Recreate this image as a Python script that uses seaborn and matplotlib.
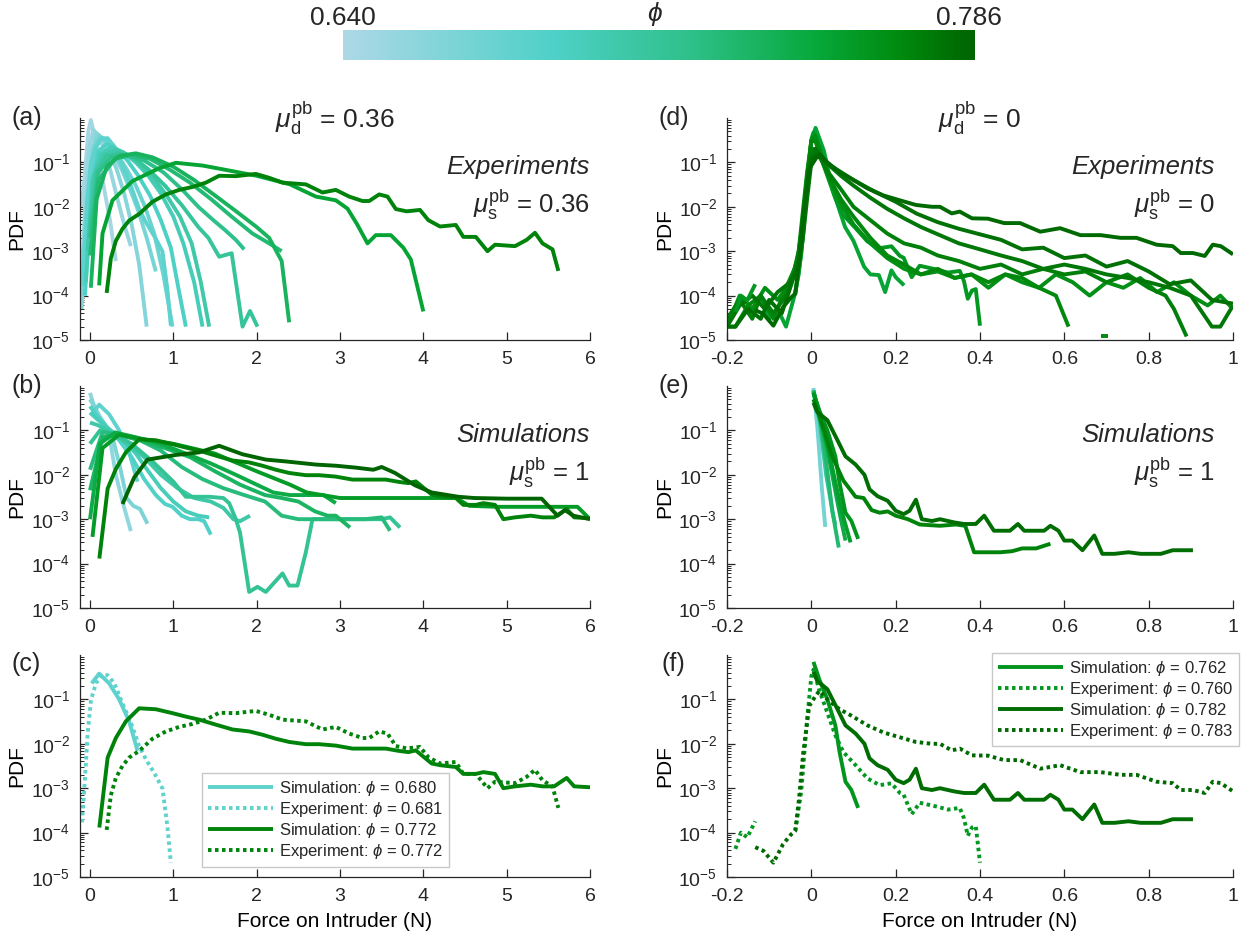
import numpy as np
import pandas as pd
import matplotlib
matplotlib.use("Agg")
import matplotlib.pyplot as plt
import seaborn as sns
from matplotlib.colors import LinearSegmentedColormap, Normalize
from matplotlib.cm import ScalarMappable
from matplotlib.ticker import LogLocator, NullFormatter

sns.set_theme(style="ticks", rc={"xtick.direction": "in", "ytick.direction": "in"})
plt.rcParams["font.family"] = ["Liberation Sans", "DejaVu Sans"]
plt.rcParams["mathtext.fontset"] = "custom"
plt.rcParams["mathtext.rm"] = "Liberation Sans"
plt.rcParams["mathtext.it"] = "Liberation Sans:italic"
plt.rcParams["axes.unicode_minus"] = False

phi_min, phi_max = 0.640, 0.786

# curves shared between panels (force in N, PDF)
exp681_f = [-0.096, -0.068, -0.028, 0.012, 0.072, 0.132, 0.212, 0.292, 0.39, 0.49, 0.59, 0.67, 0.79, 0.87, 0.93, 0.97]
exp681_p = [1.7e-4, 9.8e-4, 1.7e-2, 9.8e-2, 0.23, 0.35, 0.35, 0.23, 8.1e-2, 3.0e-2, 8.9e-3, 4.5e-3, 1.9e-3, 9.8e-4, 1.3e-4, 2.1e-5]
exp772_f = [0.2, 0.25, 0.31, 0.39, 0.47, 0.59, 0.75, 0.91, 1.07, 1.23, 1.39, 1.55, 1.75, 1.99, 2.15, 2.31, 2.59, 2.79, 2.95, 3.11,
            3.27, 3.35, 3.47, 3.57, 3.67, 3.8, 3.96, 4.06, 4.2, 4.39, 4.48, 4.63, 4.77, 4.86, 5.1, 5.24, 5.34, 5.43, 5.55, 5.62]
exp772_p = [1.15e-4, 6.9e-4, 1.7e-3, 3.2e-3, 4.9e-3, 6.9e-3, 1.3e-2, 1.9e-2, 2.4e-2, 2.8e-2, 3.5e-2, 5.0e-2, 4.9e-2, 5.5e-2, 4.5e-2, 3.5e-2, 3.2e-2, 2.1e-2, 2.4e-2, 1.7e-2,
            1.35e-2, 1.35e-2, 1.9e-2, 1.7e-2, 8.9e-3, 7.9e-3, 8.5e-3, 5.0e-3, 3.6e-3, 3.9e-3, 2.1e-3, 2.1e-3, 1.0e-3, 1.4e-3, 1.3e-3, 1.8e-3, 2.6e-3, 1.5e-3, 1.1e-3, 3.6e-4]
sim680_f = [0.02, 0.11, 0.23, 0.35, 0.47, 0.57]
sim680_p = [0.23, 0.38, 0.23, 0.1, 3.2e-2, 7e-3]
sim772_f = [0.112, 0.212, 0.31, 0.43, 0.59, 0.79, 0.99, 1.15, 1.31, 1.51, 1.71, 1.91, 2.07, 2.23, 2.39, 2.59, 2.75, 2.95, 3.15, 3.31,
            3.55, 3.71, 3.82, 3.91, 4.1, 4.2, 4.39, 4.48, 4.63, 4.72, 4.86, 4.96, 5.1, 5.29, 5.43, 5.57, 5.72, 5.81, 6.0]
sim772_p = [1.3e-4, 4.9e-3, 1.35e-2, 3.2e-2, 6.3e-2, 6.0e-2, 4.9e-2, 4.1e-2, 3.5e-2, 2.7e-2, 2.1e-2, 1.9e-2, 1.6e-2, 1.3e-2, 1.1e-2, 9.8e-3, 9.8e-3, 9.1e-3, 7.8e-3, 7.8e-3,
            7.8e-3, 6.9e-3, 6.5e-3, 7.1e-3, 3.6e-3, 3.3e-3, 3.0e-3, 2.1e-3, 2.1e-3, 2.3e-3, 2.1e-3, 1.0e-3, 1.1e-3, 1.2e-3, 1.1e-3, 1.1e-3, 1.7e-3, 1.1e-3, 1.05e-3]
exp760_left_f = [-0.18, -0.167, -0.152, -0.133]
exp760_left_p = [4.3e-5, 1e-4, 7.8e-5, 1.8e-4]
exp760_f = [-0.038, -0.024, -0.01, 0.0, 0.005, 0.019, 0.038, 0.057, 0.076, 0.105, 0.133, 0.162, 0.19, 0.21, 0.219, 0.238, 0.257,
            0.295, 0.324, 0.352, 0.362, 0.371, 0.381, 0.39, 0.4]
exp760_p = [1.1e-4, 8.5e-4, 3.6e-2, 0.33, 0.47, 0.16, 5e-2, 1.55e-2, 6.5e-3, 3.3e-3, 1.66e-3, 1.17e-3, 1.29e-3, 7.8e-4, 7.1e-4, 2.6e-4, 4.7e-4,
            3.9e-4, 3.3e-4, 3.6e-4, 2.1e-4, 8.5e-5, 1.3e-4, 1.4e-4, 2.1e-5]
exp783_f = [-0.133, -0.114, -0.09, -0.067, -0.048, -0.038, -0.029, -0.019, -0.005, 0.01, 0.019, 0.038, 0.067, 0.095, 0.133, 0.171, 0.21, 0.248, 0.286, 0.305,
            0.333, 0.352, 0.381, 0.419, 0.457, 0.495, 0.543, 0.59, 0.638, 0.686, 0.733, 0.771, 0.819, 0.857, 0.876, 0.905, 0.933, 0.952, 0.971, 1.0]
exp783_p = [4.7e-5, 3.9e-5, 2.1e-5, 5.5e-5, 9.1e-5, 1.1e-4, 6e-4, 6.5e-3, 7.1e-2, 0.12, 0.155, 0.1, 6e-2, 4.3e-2, 2.6e-2, 1.8e-2, 1.4e-2, 1.1e-2, 1e-2, 1e-2,
            7.1e-3, 7.8e-3, 5.5e-3, 5.4e-3, 4.3e-3, 4.3e-3, 2.75e-3, 3.3e-3, 2.3e-3, 2.3e-3, 2e-3, 2e-3, 1.4e-3, 1.3e-3, 9.1e-4, 9.1e-4, 7.8e-4, 1.4e-3, 1.3e-3, 8.5e-4]
sim762_f = [0.005, 0.019, 0.038, 0.057, 0.067, 0.081, 0.095, 0.111]
sim762_p = [0.7, 0.28, 0.1, 2.6e-2, 6.5e-3, 1.4e-3, 9.1e-4, 3.6e-4]
sim782_f = [0.005, 0.014, 0.038, 0.062, 0.081, 0.105, 0.126, 0.138, 0.157, 0.181, 0.2, 0.219, 0.233, 0.248, 0.262, 0.286, 0.305, 0.338, 0.362, 0.39,
            0.41, 0.433, 0.471, 0.49, 0.505, 0.552, 0.567, 0.586, 0.6, 0.619, 0.643, 0.671, 0.69, 0.719, 0.752, 0.781, 0.829, 0.857, 0.905]
sim782_p = [0.42, 0.26, 0.17, 6e-2, 2.6e-2, 1.7e-2, 1e-2, 4.7e-3, 3.3e-3, 2.6e-3, 1.55e-3, 1.3e-3, 1.55e-3, 2.75e-3, 1e-3, 9.1e-4, 1e-3, 8.5e-4, 7.8e-4, 7.8e-4,
            1.2e-3, 5.5e-4, 5.5e-4, 7.8e-4, 5.5e-4, 5.5e-4, 7.1e-4, 5.5e-4, 3.3e-4, 3.3e-4, 2e-4, 4.3e-4, 1.66e-4, 1.66e-4, 1.8e-4, 1.66e-4, 1.66e-4, 2e-4, 2e-4]

# (a) experiments, mu = 0.36
a1_f = [-0.1, -0.06, -0.02, 0.01, 0.06, 0.11, 0.17, 0.24, 0.31]
a1_p = [1e-2, 6e-2, 0.5, 0.9, 0.35, 0.12, 2.5e-2, 5e-3, 6e-4]
a2_f = [-0.1, -0.06, -0.01, 0.04, 0.1, 0.17, 0.25, 0.33, 0.41, 0.49]
a2_p = [2e-4, 1e-2, 0.2, 0.55, 0.4, 0.2, 6e-2, 1.5e-2, 4e-3, 1.3e-3]
a3_f = [-0.1, -0.05, 0.02, 0.08, 0.15, 0.23, 0.32, 0.41, 0.5, 0.59, 0.68]
a3_p = [5e-5, 5e-3, 0.15, 0.45, 0.35, 0.18, 7e-2, 2e-2, 4e-3, 5e-4, 2e-5]
a4_f = [-0.1, -0.04, 0.04, 0.11, 0.19, 0.28, 0.38, 0.48, 0.58, 0.68, 0.79]
a4_p = [1e-4, 1e-2, 0.2, 0.4, 0.3, 0.16, 7e-2, 2.5e-2, 8e-3, 2e-3, 3.5e-4]
a5_f = [-0.09, -0.02, 0.06, 0.14, 0.23, 0.33, 0.44, 0.55, 0.66, 0.77, 0.88, 0.99]
a5_p = [2e-4, 2e-2, 0.2, 0.35, 0.28, 0.15, 7e-2, 3e-2, 1e-2, 2.5e-3, 3e-4, 2e-5]
a7_f = [-0.06, 0.02, 0.1, 0.2, 0.32, 0.45, 0.58, 0.72, 0.85, 0.97, 1.06, 1.15]
a7_p = [1e-4, 3e-2, 0.18, 0.26, 0.2, 0.11, 5e-2, 1.8e-2, 5e-3, 1.2e-3, 1.5e-4, 2e-5]
a8_f = [-0.05, 0.03, 0.13, 0.26, 0.4, 0.55, 0.7, 0.85, 1.0, 1.12, 1.25, 1.35]
a8_p = [2e-4, 4e-2, 0.16, 0.22, 0.17, 0.1, 5e-2, 2e-2, 6e-3, 1.5e-3, 2e-4, 2e-5]
a9_f = [-0.03, 0.05, 0.16, 0.3, 0.45, 0.6, 0.76, 0.92, 1.08, 1.22, 1.33, 1.43]
a9_p = [1e-3, 5e-2, 0.15, 0.19, 0.15, 9e-2, 4.5e-2, 1.8e-2, 6e-3, 1.5e-3, 2e-4, 2e-5]
a10_f = [0.0, 0.08, 0.2, 0.35, 0.52, 0.7, 0.9, 1.1, 1.3, 1.42, 1.55, 1.7, 1.83, 1.92, 2.01]
a10_p = [3e-3, 6e-2, 0.14, 0.16, 0.13, 7e-2, 3e-2, 1.1e-2, 3.5e-3, 2e-3, 7.5e-4, 9e-4, 2e-5, 4.5e-5, 2e-5]
a11_f = [0.0, 0.1, 0.25, 0.45, 0.65, 0.88, 1.1, 1.3, 1.48, 1.62, 1.75, 1.85]
a11_p = [2e-3, 6e-2, 0.13, 0.14, 0.11, 6e-2, 2.5e-2, 1e-2, 5e-3, 3e-3, 1.8e-3, 1.1e-3]
a12_f = [0.0, 0.1, 0.3, 0.5, 0.72, 0.95, 1.2, 1.45, 1.7, 1.95, 2.15, 2.3]
a12_p = [8e-4, 4e-2, 0.12, 0.15, 0.12, 7e-2, 3.5e-2, 1.5e-2, 6e-3, 2.5e-3, 1.5e-3, 1e-3]
a13_f = [0.01, 0.08, 0.2, 0.35, 0.55, 0.75, 1.0, 1.25, 1.5, 1.75, 2.0, 2.15, 2.3, 2.39]
a13_p = [1.5e-4, 1.5e-2, 8e-2, 0.14, 0.16, 0.13, 8e-2, 4e-2, 1.8e-2, 8e-3, 3.5e-3, 2e-3, 6e-4, 2.5e-5]
a14_f = [0.11, 0.15, 0.27, 0.51, 0.83, 1.03, 1.35, 1.59, 2.0, 2.4, 2.71, 2.95, 3.09, 3.21, 3.33, 3.43, 3.61, 3.76, 3.85, 4.0]
a14_p = [1.7e-4, 2.5e-3, 1.4e-2, 3.8e-2, 7.4e-2, 9.8e-2, 8.5e-2, 7e-2, 5e-2, 3.2e-2, 1.7e-2, 1.4e-2, 9.1e-3, 3.9e-3, 1.5e-3, 2.3e-3, 2.3e-3, 1.2e-3, 6.5e-4, 4.4e-5]
phi_a = [0.645, 0.652, 0.66, 0.667, 0.674, 0.681, 0.69, 0.697, 0.704, 0.712, 0.72, 0.728, 0.736, 0.752, 0.772]

# (b) simulations, mu_s = 1
b1_f = [0.0, 0.04, 0.1, 0.17, 0.23, 0.31, 0.39, 0.49]
b1_p = [0.7, 0.4, 0.22, 0.13, 8e-2, 1e-2, 2.5e-3, 5.4e-4]
b2_f = [0.0, 0.05, 0.12, 0.2, 0.28, 0.36, 0.44, 0.52, 0.6, 0.69]
b2_p = [0.5, 0.35, 0.2, 0.12, 6e-2, 1.5e-2, 3e-3, 2e-3, 1.7e-3, 7.9e-4]
b4_f = [0.0, 0.08, 0.2, 0.35, 0.5, 0.65, 0.79, 0.9, 0.99, 1.1, 1.2, 1.3, 1.37, 1.45]
b4_p = [0.35, 0.22, 0.12, 6e-2, 2.5e-2, 8e-3, 3.5e-3, 2.2e-3, 1.9e-3, 1.2e-3, 1e-3, 1e-3, 9e-4, 4.5e-4]
b5_f = [0.0, 0.1, 0.25, 0.4, 0.55, 0.7, 0.85, 1.0, 1.15, 1.3, 1.43]
b5_p = [0.25, 0.17, 0.1, 6e-2, 3e-2, 1.2e-2, 5e-3, 2.5e-3, 1.5e-3, 1.2e-3, 1.1e-3]
b6_f = [0.0, 0.1, 0.25, 0.45, 0.65, 0.85, 1.05, 1.25, 1.45, 1.6, 1.72, 1.8, 1.92]
b6_p = [0.15, 0.13, 9e-2, 5e-2, 2.5e-2, 1e-2, 5e-3, 3e-3, 2.5e-3, 1.8e-3, 1e-3, 9e-4, 1.2e-3]
b7_f = [0.0, 0.12, 0.3, 0.5, 0.75, 1.0, 1.15, 1.43, 1.6, 1.67, 1.75, 1.8, 1.91, 2.01, 2.11, 2.31, 2.39, 2.49, 2.59, 2.67,
        2.9, 3.2, 3.5, 3.6, 3.72]
b7_p = [5e-2, 0.1, 8e-2, 5e-2, 2e-2, 7e-3, 3.2e-3, 3.2e-3, 3e-3, 2.3e-3, 1e-3, 5e-4, 2.3e-5, 3e-5, 2.3e-5, 6e-5, 3.2e-5, 3.2e-5, 1.8e-4, 1e-3,
        1e-3, 1e-3, 1e-3, 1.1e-3, 6.5e-4]
b8_f = [0.0, 0.15, 0.35, 0.6, 0.85, 1.1, 1.35, 1.6, 1.85, 2.1, 2.3, 2.5, 2.7, 2.9, 3.1, 3.3, 3.5, 3.6]
b8_p = [1.3e-2, 9e-2, 8e-2, 6e-2, 3.5e-2, 1.5e-2, 8e-3, 5e-3, 3.5e-3, 2.5e-3, 1.2e-3, 1e-3, 1e-3, 1e-3, 1e-3, 1e-3, 1.1e-3, 5.5e-4]
b9_f = [0.0, 0.15, 0.35, 0.6, 0.9, 1.2, 1.5, 1.8, 2.1, 2.3, 2.5, 2.7, 2.85, 2.95, 3.12]
b9_p = [4.5e-3, 7e-2, 8e-2, 6e-2, 4e-2, 2.5e-2, 1.2e-2, 6e-3, 3.5e-3, 3e-3, 2.5e-3, 1.5e-3, 1.2e-3, 1.2e-3, 6.5e-4]
b10_f = [0.0, 0.12, 0.3, 0.55, 0.85, 1.15, 1.45, 1.75, 2.0, 2.2, 2.4, 2.6, 2.8, 2.95]
b10_p = [1e-3, 5e-2, 9e-2, 7e-2, 5e-2, 3e-2, 1.8e-2, 1e-2, 6e-3, 4e-3, 3.5e-3, 3.5e-3, 3.5e-3, 2.3e-3]
b11_f = [0.03, 0.15, 0.35, 0.6, 1.0, 1.5, 2.0, 2.4, 2.6, 3.0, 3.5, 4.0, 4.4, 4.55, 4.9, 5.5, 5.85, 6.0]
b11_p = [4e-4, 4e-2, 8e-2, 6.5e-2, 5e-2, 3e-2, 1.2e-2, 6e-3, 4e-3, 3e-3, 3e-3, 3e-3, 3e-3, 2e-3, 1.9e-3, 1.9e-3, 1.9e-3, 1e-3]
b13_f = [0.39, 0.53, 0.69, 1.03, 1.31, 1.55, 1.83, 2.11, 2.35, 2.71, 2.95, 3.19, 3.4, 3.5, 3.66, 3.9, 4.1, 4.42, 4.61, 5.0,
         5.42, 5.61, 5.7, 5.8, 6.0]
b13_p = [2.2e-3, 8.7e-3, 2.2e-2, 2.8e-2, 3.2e-2, 4.5e-2, 2.9e-2, 2.2e-2, 2e-2, 1.7e-2, 1.6e-2, 1.45e-2, 1.3e-2, 1.5e-2, 1.1e-2, 5.8e-3, 4e-3, 3.2e-3, 3e-3, 2.9e-3,
         2.9e-3, 1.2e-3, 1.6e-3, 1.2e-3, 1e-3]
phi_b = [0.655, 0.665, 0.680, 0.688, 0.696, 0.705, 0.715, 0.725, 0.735, 0.745, 0.758, 0.772, 0.786]

# (d) experiments, mu = 0
d1_f = [-0.12, -0.1, -0.08, -0.06, -0.04, -0.03, -0.02, -0.01, 0.0, 0.01, 0.03, 0.05, 0.08, 0.1, 0.125, 0.14, 0.16, 0.175, 0.19, 0.2, 0.22]
d1_p = [1e-4, 3e-5, 5e-5, 2e-5, 1e-4, 3e-4, 2e-3, 3e-2, 0.3, 0.6, 0.18, 2.5e-2, 3.5e-3, 1.7e-3, 4.5e-4, 3e-4, 2.9e-4, 1.2e-4, 3.7e-4, 2.6e-4, 1.7e-4]
d3_f = [-0.2, -0.17, -0.14, -0.11, -0.08, -0.05, -0.03, -0.02, -0.01, 0.0, 0.01, 0.02, 0.04, 0.07, 0.1, 0.14, 0.18, 0.22, 0.26, 0.3,
        0.34, 0.38, 0.42, 0.46, 0.5, 0.54, 0.58, 0.62, 0.66, 0.7, 0.74, 0.78, 0.82, 0.86, 0.9, 0.94, 0.97, 1.0]
d3_p = [2e-5, 1e-4, 5e-5, 1.5e-4, 8e-5, 2e-4, 8e-4, 5e-3, 5e-2, 0.3, 0.4, 0.2, 5e-2, 1.2e-2, 4e-3, 1.5e-3, 7e-4, 4e-4, 3e-4, 3.5e-4,
        2.5e-4, 3e-4, 1.5e-4, 3e-4, 2e-4, 1.5e-4, 3e-4, 2e-4, 1e-4, 2e-4, 1.5e-4, 2.5e-4, 1.2e-4, 2e-4, 1e-4, 6e-5, 1e-4, 5e-5]
d4_f = [-0.2, -0.18, -0.15, -0.12, -0.09, -0.06, -0.04, -0.03, -0.02, -0.01, 0.0, 0.01, 0.02, 0.04, 0.07, 0.1, 0.14, 0.18, 0.22, 0.26,
        0.3, 0.34, 0.38, 0.42, 0.46, 0.5, 0.54, 0.58, 0.61]
d4_p = [2e-5, 2e-5, 6e-5, 1e-4, 3e-5, 1.5e-4, 4e-4, 1e-3, 8e-3, 6e-2, 0.3, 0.3, 0.15, 5e-2, 1.5e-2, 6e-3, 2e-3, 8e-4, 5e-4, 3e-4,
        4e-4, 2.5e-4, 3e-4, 2e-4, 3e-4, 2.5e-4, 1.5e-4, 1e-4, 2e-5]
d4_dash_f = [0.688, 0.703]
d4_dash_p = [1.2e-5, 1.2e-5]
d5_f = [-0.2, -0.17, -0.14, -0.12, -0.09, -0.06, -0.04, -0.03, -0.02, -0.01, 0.0, 0.01, 0.02, 0.04, 0.07, 0.1, 0.14, 0.18, 0.22, 0.26,
        0.3, 0.35, 0.4, 0.45, 0.5, 0.55, 0.6, 0.65, 0.7, 0.75, 0.8, 0.84, 0.86, 0.89]
d5_p = [3e-5, 8e-5, 3e-5, 1e-4, 4e-5, 1e-4, 3e-4, 1e-3, 5e-3, 4e-2, 0.2, 0.2, 0.13, 6e-2, 2.5e-2, 1e-2, 5e-3, 2.5e-3, 1.5e-3, 1.2e-3,
        8e-4, 6e-4, 4e-4, 5e-4, 3e-4, 4e-4, 3e-4, 3.5e-4, 2e-4, 3e-4, 1.5e-4, 1e-4, 5e-5, 1.2e-5]
d6_f = [-0.2, -0.17, -0.14, -0.11, -0.08, -0.05, -0.03, -0.02, -0.01, 0.0, 0.01, 0.02, 0.04, 0.07, 0.1, 0.14, 0.18, 0.22, 0.26, 0.3,
        0.35, 0.4, 0.45, 0.5, 0.55, 0.6, 0.65, 0.7, 0.75, 0.8, 0.85, 0.9, 0.95, 0.97, 1.0]
d6_p = [2e-5, 6e-5, 1e-4, 5e-5, 1.2e-4, 2e-4, 5e-4, 2e-3, 1.5e-2, 0.1, 0.2, 0.15, 9e-2, 5e-2, 3e-2, 1.6e-2, 9e-3, 5.5e-3, 3.5e-3, 2.4e-3,
        1.5e-3, 1.1e-3, 8e-4, 6e-4, 4e-4, 5e-4, 4e-4, 3e-4, 2.5e-4, 2e-4, 1.5e-4, 1e-4, 2e-5, 2e-5, 6e-5]
d7_f = [-0.2, -0.18, -0.15, -0.12, -0.1, -0.07, -0.05, -0.03, -0.02, -0.01, 0.0, 0.01, 0.02, 0.05, 0.1, 0.15, 0.2, 0.25, 0.3, 0.35,
        0.4, 0.45, 0.5, 0.55, 0.6, 0.65, 0.7, 0.75, 0.8, 0.85, 0.9, 0.95, 1.0]
d7_p = [2e-5, 2e-5, 5e-5, 3e-5, 8e-5, 4e-5, 1.5e-4, 6e-4, 3e-3, 3e-2, 0.12, 0.14, 0.13, 8e-2, 4e-2, 2.2e-2, 1.3e-2, 7e-3, 4.5e-3, 3.2e-3,
        2.4e-3, 1.8e-3, 1.1e-3, 1.2e-3, 7e-4, 8e-4, 4.5e-4, 6e-4, 3.5e-4, 1.8e-4, 2.2e-4, 8e-5, 6.6e-5]
phi_d = [0.752, 0.760, 0.765, 0.769, 0.773, 0.777, 0.780, 0.783]

# (e) simulations, mu_s = 1
e1_f = [0.005, 0.015, 0.025, 0.033]
e1_p = [0.9, 0.1, 5e-3, 6.7e-4]
e2_f = [0.005, 0.02, 0.035, 0.05, 0.057]
e2_p = [0.8, 0.15, 1e-2, 1.5e-3, 7.5e-4]
e3_f = [0.005, 0.02, 0.035, 0.05, 0.065]
e3_p = [0.8, 0.2, 2e-2, 1.5e-3, 2.3e-4]
e4_f = [0.005, 0.02, 0.04, 0.06, 0.07, 0.081]
e4_p = [0.75, 0.2, 3e-2, 3e-3, 1e-3, 3.3e-4]
e5_f = [0.005, 0.02, 0.04, 0.06, 0.075, 0.093]
e5_p = [0.7, 0.25, 4e-2, 5e-3, 1.2e-3, 3e-4]
e7_f = [0.005, 0.019, 0.048, 0.076, 0.105, 0.124, 0.143, 0.162, 0.181, 0.2, 0.229, 0.257, 0.305, 0.343, 0.365, 0.386, 0.448, 0.476, 0.5, 0.533, 0.567]
e7_p = [0.5, 0.21, 2.8e-2, 7.4e-3, 3.2e-3, 3e-3, 1.6e-3, 1.4e-3, 1.5e-3, 1.2e-3, 1e-3, 7.6e-4, 7.1e-4, 7.6e-4, 7.1e-4, 1.8e-4, 1.8e-4, 1.9e-4, 2.2e-4, 2.2e-4, 2.8e-4]
phi_e = [0.67, 0.71, 0.73, 0.745, 0.755, 0.762, 0.772, 0.782]

left_ticks = [0, 1, 2, 3, 4, 5, 6]
left_labels = ["0", "1", "2", "3", "4", "5", "6"]
right_ticks = [-0.2, 0, 0.2, 0.4, 0.6, 0.8, 1]
right_labels = ["-0.2", "0", "0.2", "0.4", "0.6", "0.8", "1"]
legend_c = ["Simulation: $\\phi$ = 0.680", "Experiment: $\\phi$ = 0.681",
            "Simulation: $\\phi$ = 0.772", "Experiment: $\\phi$ = 0.772"]
legend_f = ["Simulation: $\\phi$ = 0.762", "Experiment: $\\phi$ = 0.760",
            "Simulation: $\\phi$ = 0.782", "Experiment: $\\phi$ = 0.783"]

cmap = LinearSegmentedColormap.from_list(
    "phi", [(0.0, "#add8e6"), (0.33, "#4fd1c8"), (0.55, "#2ec08a"),
            (0.75, "#07a83a"), (0.88, "#008b0e"), (1.0, "#006400")])
norm = Normalize(phi_min, phi_max)
LW = 2.8
DARK = "#262626"


def draw(ax, f, p, phi, dotted=False):
    kw = dict(color=cmap(norm(phi)), linewidth=LW, solid_capstyle="butt")
    if dotted:
        kw.update(linestyle=(0, (0.9, 0.9)), dash_capstyle="butt")
    sns.lineplot(x=f, y=p, ax=ax, sort=False, estimator=None, legend=False, **kw)
    return ax.get_lines()[-1]


def style(ax, xlim, ticks, labels, xlabel=False):
    ax.set_ylim(1e-5, 1)
    ax.set_xlim(*xlim)
    ax.set_yticks([1e-5, 1e-4, 1e-3, 1e-2, 1e-1])
    ax.yaxis.set_minor_locator(LogLocator(base=10, subs=np.arange(2, 10), numticks=20))
    ax.yaxis.set_minor_formatter(NullFormatter())
    ax.set_xticks(ticks)
    ax.set_xticklabels(labels)
    sns.despine(ax=ax)
    for s in ("left", "bottom"):
        ax.spines[s].set_color(DARK)
        ax.spines[s].set_linewidth(0.9)
    ax.tick_params(which="major", length=6, width=0.9, color=DARK, labelsize=14, labelcolor=DARK)
    ax.tick_params(axis="x", pad=8)
    ax.tick_params(axis="y", pad=7)
    ax.tick_params(which="minor", length=3, width=0.7, color=DARK)
    ax.set_ylabel("PDF", fontsize=15, color="black")
    ax.yaxis.set_label_coords(-0.105, 0.5)
    if xlabel:
        ax.set_xlabel("Force on Intruder (N)", fontsize=15, color="black", labelpad=5)
    else:
        ax.set_xlabel("")


fig = plt.figure(figsize=(12.5, 9.4), dpi=100)
W, H = 1250, 940
lefts = [80, 727]
widths = [510, 506]
bottoms = [340, 608, 877]
ax_h = 222
axes = {}
for col, names in enumerate([("a", "b", "c"), ("d", "e", "f")]):
    for row, name in enumerate(names):
        ax = fig.add_axes([lefts[col] / W, 1 - bottoms[row] / H, widths[col] / W, ax_h / H])
        ax.set_yscale("log")
        axes[name] = ax

# (a)
ax = axes["a"]
curves_a = [(a1_f, a1_p), (a2_f, a2_p), (a3_f, a3_p), (a4_f, a4_p), (a5_f, a5_p), (exp681_f, exp681_p),
            (a7_f, a7_p), (a8_f, a8_p), (a9_f, a9_p), (a10_f, a10_p), (a11_f, a11_p), (a12_f, a12_p),
            (a13_f, a13_p), (a14_f, a14_p), (exp772_f, exp772_p)]
for (f, p), phi in zip(curves_a, phi_a):
    draw(ax, f, p, phi)

# (b)
ax = axes["b"]
curves_b = [(b1_f, b1_p), (b2_f, b2_p), (sim680_f, sim680_p), (b4_f, b4_p), (b5_f, b5_p), (b6_f, b6_p),
            (b7_f, b7_p), (b8_f, b8_p), (b9_f, b9_p), (b10_f, b10_p), (b11_f, b11_p), (sim772_f, sim772_p),
            (b13_f, b13_p)]
for (f, p), phi in zip(curves_b, phi_b):
    draw(ax, f, p, phi)

# (c)
ax = axes["c"]
h = [draw(ax, sim680_f, sim680_p, 0.680),
     draw(ax, exp681_f, exp681_p, 0.681, dotted=True),
     draw(ax, sim772_f, sim772_p, 0.772),
     draw(ax, exp772_f, exp772_p, 0.772, dotted=True)]
ax.legend(h, legend_c, loc="lower left", bbox_to_anchor=(0.24, 0.045), fontsize=12, frameon=True,
          fancybox=False, edgecolor="#c8c8c8", framealpha=1, handlelength=3.9, handletextpad=0.35,
          labelspacing=0.12, borderpad=0.35, borderaxespad=0)

# (d)
ax = axes["d"]
curves_d = [(d1_f, d1_p), (exp760_f, exp760_p), (d3_f, d3_p), (d4_f, d4_p), (d5_f, d5_p),
            (d6_f, d6_p), (d7_f, d7_p), (exp783_f, exp783_p)]
for (f, p), phi in zip(curves_d, phi_d):
    draw(ax, f, p, phi)
draw(ax, exp760_left_f, exp760_left_p, phi_d[1])
draw(ax, d4_dash_f, d4_dash_p, phi_d[3])

# (e)
ax = axes["e"]
curves_e = [(e1_f, e1_p), (e2_f, e2_p), (e3_f, e3_p), (e4_f, e4_p), (e5_f, e5_p),
            (sim762_f, sim762_p), (e7_f, e7_p), (sim782_f, sim782_p)]
for (f, p), phi in zip(curves_e, phi_e):
    draw(ax, f, p, phi)

# (f)
ax = axes["f"]
h = [draw(ax, sim762_f, sim762_p, 0.762),
     draw(ax, exp760_f, exp760_p, 0.760, dotted=True),
     draw(ax, sim782_f, sim782_p, 0.782),
     draw(ax, exp783_f, exp783_p, 0.783, dotted=True)]
draw(ax, exp760_left_f, exp760_left_p, 0.760, dotted=True)
ax.legend(h, legend_f, loc="upper right", bbox_to_anchor=(1.012, 1.01), fontsize=12, frameon=True,
          fancybox=False, edgecolor="#c8c8c8", framealpha=1, handlelength=3.9, handletextpad=0.35,
          labelspacing=0.12, borderpad=0.35, borderaxespad=0)

for name in "abc":
    style(axes[name], (-0.12, 6), left_ticks, left_labels, xlabel=(name == "c"))
for name in "def":
    style(axes[name], (-0.2, 1), right_ticks, right_labels, xlabel=(name == "f"))

# annotations
for name in "abcdef":
    yy = 0.96 if name in "cf" else 1.0
    axes[name].text(-0.105, yy, f"({name})", transform=axes[name].transAxes,
                    ha="center", va="center", fontsize=18)
axes["a"].text(0.5, 1.0, r"$\mu_\mathrm{d}^\mathrm{pb}$ = 0.36", transform=axes["a"].transAxes,
               ha="center", va="center", fontsize=19)
axes["d"].text(0.5, 1.0, r"$\mu_\mathrm{d}^\mathrm{pb}$ = 0", transform=axes["d"].transAxes,
               ha="center", va="center", fontsize=19)
annot = [("a", 1.0, "Experiments", r"$\mu_\mathrm{s}^\mathrm{pb}$ = 0.36"),
         ("b", 1.0, "Simulations", r"$\mu_\mathrm{s}^\mathrm{pb}$ = 1"),
         ("d", 0.964, "Experiments", r"$\mu_\mathrm{s}^\mathrm{pb}$ = 0"),
         ("e", 0.964, "Simulations", r"$\mu_\mathrm{s}^\mathrm{pb}$ = 1")]
for name, xx, top, bottom in annot:
    axes[name].text(xx, 0.78, top, transform=axes[name].transAxes, ha="right", va="center",
                    fontsize=18.5, style="italic")
    axes[name].text(xx, 0.61, bottom, transform=axes[name].transAxes, ha="right", va="center",
                    fontsize=18.5)

# colour bar
cax = fig.add_axes([343 / W, 1 - 60 / H, 632 / W, 30 / H])
cb = fig.colorbar(ScalarMappable(norm=norm, cmap=cmap), cax=cax, orientation="horizontal")
cb.set_ticks([])
cb.outline.set_visible(False)
fig.text(343 / W, 1 - 18 / H, "0.640", ha="center", va="center", fontsize=19)
fig.text(969 / W, 1 - 18 / H, "0.786", ha="center", va="center", fontsize=19)
fig.text(655 / W, 1 - 14 / H, r"$\phi$", ha="center", va="center", fontsize=19)

fig.savefig("out.png", dpi=100)
